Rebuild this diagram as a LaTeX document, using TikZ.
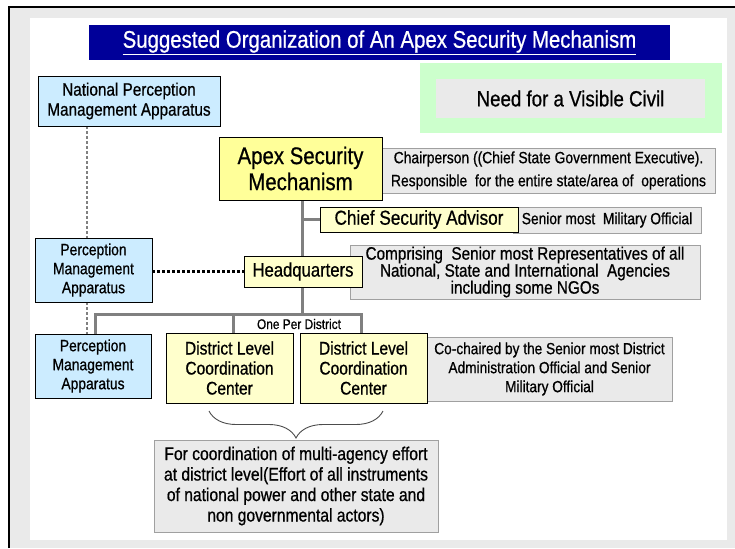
\documentclass[tikz,border=0pt]{standalone}
\usepackage{fontspec}
\setmainfont{Liberation Sans}[FakeStretch=0.85, FakeBold=0.7]
\usetikzlibrary{backgrounds,decorations.pathreplacing}

\definecolor{titleblue}{HTML}{000099}
\definecolor{percepblue}{HTML}{CCECFF}
\definecolor{apexyellow}{HTML}{FFFF99}
\definecolor{unityellow}{HTML}{FFFFCC}
\definecolor{notefill}{HTML}{EAEAEA}
\definecolor{notegray}{HTML}{A0A0A0}
\definecolor{civilgreen}{HTML}{CCFFCC}
\definecolor{linkgray}{HTML}{808080}
\definecolor{framegray}{HTML}{EAEAEA}

\begin{document}
\begin{tikzpicture}[
x=1pt, y=-1pt,
fs/.style args={#1/#2}{font=\fontsize{#1}{#2}\selectfont},
box/.style={draw=black, line width=0.8pt, inner sep=0pt, align=center, text=black},
percep/.style={box, fill=percepblue},
apexbox/.style={box, fill=apexyellow},
unit/.style={box, fill=unityellow},
note/.style={draw=notegray, line width=0.8pt, fill=notefill, inner sep=0pt, align=center},
link/.style={draw=linkgray, line width=3pt, line join=miter},
pmlink/.style={draw=linkgray, line width=2.6pt, dash pattern=on 3pt off 2pt},
hqlink/.style={draw=black, line width=3pt, dash pattern=on 3pt off 2pt},
bracestyle/.style={draw=black!70, line width=0.9pt, decorate, decoration={brace, amplitude=27pt}},
]
\useasboundingbox (0,0) rectangle (735,548);

% slide frame
\begin{scope}[on background layer]
\fill[framegray] (9,7) rectangle (735,548);
\draw[line width=1.5pt] (9,548) -- (9,7) -- (735,7);
\fill[white] (30,18) rectangle (727,540);
\end{scope}

% heading
\node[fill=titleblue, text=white, inner sep=0pt, fs=24/28, minimum width=581, minimum height=35]
  (title) at (379.5,42.5) {\underline{Suggested Organization of An Apex Security Mechanism}};

% top row
\node[percep, fs=18/20, minimum width=182, minimum height=50] (npma) at (129,101)
  {National Perception\\Management Apparatus};
\node[fill=civilgreen, minimum width=302, minimum height=70] (green) at (571,98) {};
\node[fill=notefill, inner sep=0pt, fs=22/24, minimum width=269, minimum height=39] (civil) at (570.5,98.5)
  {Need for a Visible Civil};

% apex and staff
\node[note, fs=16.3/23, minimum width=333, minimum height=45] (chair) at (548.5,170.5)
  {Chairperson ((Chief State Government Executive).\\Responsible\ \ for the entire state/area of\ \ operations};
\node[apexbox, fs=24/26, minimum width=163, minimum height=63] (apex) at (300.5,168.5)
  {Apex Security\\Mechanism};
\node[note, fs=16.2/18, minimum width=188, minimum height=26] (senior) at (607,220)
  {Senior most\ \ Military Official};
\node[unit, fs=20.2/22, minimum width=198, minimum height=25] (csa) at (419,219.5)
  {Chief Security Advisor};
\node[note, fs=18/17, minimum width=350, minimum height=54] (comp) at (525,272)
  {Comprising\ \ Senior most Representatives of all\\National, State and International\ \ Agencies\\including some NGOs};
\node[unit, fs=19.6/22, minimum width=118, minimum height=31] (hq) at (303,271.5)
  {Headquarters};
\node[percep, fs=16.3/19, minimum width=117, minimum height=64] (pmam) at (93.5,270)
  {Perception\\Management\\Apparatus};

% district level
\node[fs=14/16, inner sep=0pt] (oneper) at (299,324) {One Per District};
\node[percep, fs=16.3/19, minimum width=116, minimum height=64] (pmab) at (93,366)
  {Perception\\Management\\Apparatus};
\node[unit, fs=18.3/20, minimum width=127, minimum height=70] (dlcc1) at (229.5,368)
  {District Level\\Coordination\\Center};
\node[note, fs=16.1/19, minimum width=245, minimum height=64] (cochair) at (549.5,369)
  {Co-chaired by the Senior most District\\Administration Official and Senior\\Military Official};
\node[unit, fs=18.3/20, minimum width=127, minimum height=70] (dlcc2) at (363.5,368)
  {District Level\\Coordination\\Center};
\node[note, fs=18.4/20.5, minimum width=284, minimum height=92] (effort) at (296,486)
  {For coordination of multi-agency effort\\at district level(Effort of all instruments\\of national power and other state and\\non governmental actors)};

\coordinate (spine) at (302,314);
\coordinate (busL) at (95,314);
\coordinate (busM) at (233,314);
\coordinate (busR) at (361,314);
\coordinate (pmline) at (87,200);
\coordinate (braceR) at (383,411);
\coordinate (braceL) at (209,411);

% connectors
\begin{scope}[on background layer]
\draw[link] (apex.south -| spine) -- (spine);
\draw[link] (csa.west) -- (csa.west -| spine);
\draw[link] (pmab.north -| busL) -- (busL) -- (busR) -- (busR |- dlcc2.north);
\draw[link] (busM) -- (busM |- dlcc1.north);
\draw[pmlink] (npma.south -| pmline) -- (pmam.north -| pmline);
\draw[pmlink] (pmam.south -| pmline) -- (pmab.north -| pmline);
\draw[hqlink] (hq.west -| pmam.east) -- (hq.west);
\end{scope}
\draw[bracestyle] (braceR) -- (braceL);
\end{tikzpicture}
\end{document}
